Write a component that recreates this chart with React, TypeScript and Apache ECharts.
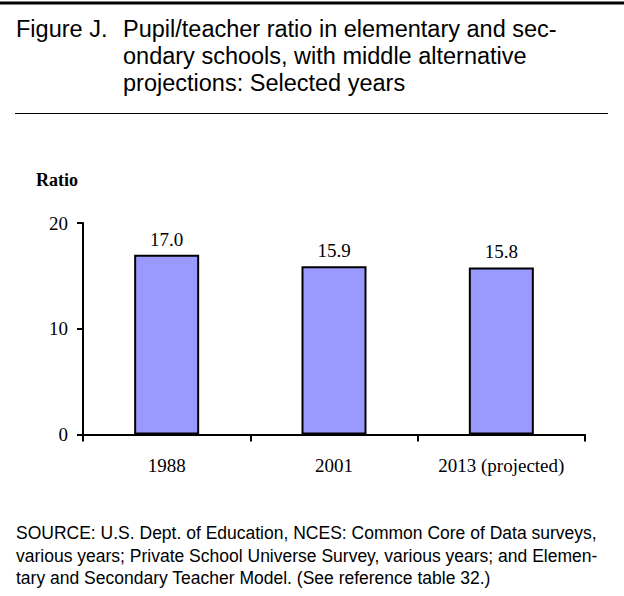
import React, { useEffect, useRef } from "react";
import * as echarts from "echarts";

const categories = ["1988", "2001", "2013 (projected)"];
const ratioValues = [17.0, 15.9, 15.8];
const valueLabels = ["17.0", "15.9", "15.8"];
const yTicks = [0, 10, 20];

const titleLead = "Figure J.";
const titleLines = [
  "Pupil/teacher ratio in elementary and sec-",
  "ondary schools, with middle alternative",
  "projections: Selected years",
];
const sourceLines = [
  "SOURCE: U.S. Dept. of Education, NCES: Common Core of Data surveys,",
  "various years; Private School Universe Survey, various years; and Elemen-",
  "tary and Secondary Teacher Model. (See reference table 32.)",
];
const yAxisTitle = "Ratio";

const SANS = "'Liberation Sans', Arial, sans-serif";
const SERIF = "'Liberation Serif', 'Times New Roman', serif";

export default function App() {
  const ref = useRef<HTMLDivElement>(null);

  useEffect(() => {
    document.body.style.margin = "0";
    const chart = echarts.init(ref.current!, null, { renderer: "svg" });

    const graphics: any[] = [
      {
        type: "line",
        shape: { x1: 0, y1: 3, x2: 624, y2: 3 },
        style: { stroke: "#000", lineWidth: 3 },
      },
      {
        type: "text",
        x: 16,
        y: 29,
        style: {
          text: titleLead,
          font: `23.5px ${SANS}`,
          fill: "#000",
          verticalAlign: "middle",
        },
      },
      ...titleLines.map((t, i) => ({
        type: "text",
        x: 123,
        y: 29 + i * 27,
        style: {
          text: t,
          font: `23.5px ${SANS}`,
          fill: "#000",
          verticalAlign: "middle",
        },
      })),
      {
        type: "line",
        shape: { x1: 15, y1: 113.5, x2: 608, y2: 113.5 },
        style: { stroke: "#000", lineWidth: 1 },
      },
      {
        type: "text",
        x: 36,
        y: 180,
        style: {
          text: yAxisTitle,
          font: `bold 18px ${SERIF}`,
          fill: "#000",
          verticalAlign: "middle",
        },
      },
      ...sourceLines.map((t, i) => ({
        type: "text",
        x: 16,
        y: 533 + i * 22.5,
        style: {
          text: t,
          font: `17.5px ${SANS}`,
          fill: "#000",
          verticalAlign: "middle",
        },
      })),
    ];

    chart.setOption({
      animation: false,
      backgroundColor: "#fff",
      grid: { left: 83, top: 223, width: 502, height: 211.5, containLabel: false },
      xAxis: {
        type: "category",
        data: categories,
        boundaryGap: true,
        axisLine: { lineStyle: { color: "#000", width: 2 } },
        axisTick: { show: true, length: 7, lineStyle: { color: "#000", width: 2 } },
        axisLabel: {
          color: "#000",
          fontFamily: SERIF,
          fontSize: 19,
          margin: 21,
        },
        splitLine: { show: false },
      },
      yAxis: {
        type: "value",
        min: yTicks[0],
        max: yTicks[yTicks.length - 1],
        interval: 10,
        axisLine: { show: true, lineStyle: { color: "#000", width: 2 } },
        axisTick: { show: true, length: 6, lineStyle: { color: "#000", width: 2 } },
        axisLabel: {
          color: "#000",
          fontFamily: SERIF,
          fontSize: 19,
          margin: 15,
        },
        splitLine: { show: false },
      },
      series: [
        {
          type: "bar",
          data: ratioValues,
          barWidth: 65,
          itemStyle: { color: "#9999FF", borderColor: "#000", borderWidth: 2 },
          label: {
            show: true,
            position: "top",
            distance: 6,
            color: "#000",
            fontFamily: SERIF,
            fontSize: 19,
            formatter: (p: any) => valueLabels[p.dataIndex],
          },
        },
      ],
      graphic: graphics,
    });

    return () => chart.dispose();
  }, []);

  return (
    <div
      ref={ref}
      style={{ position: "absolute", left: 0, top: 0, width: 624, height: 596 }}
    />
  );
}
